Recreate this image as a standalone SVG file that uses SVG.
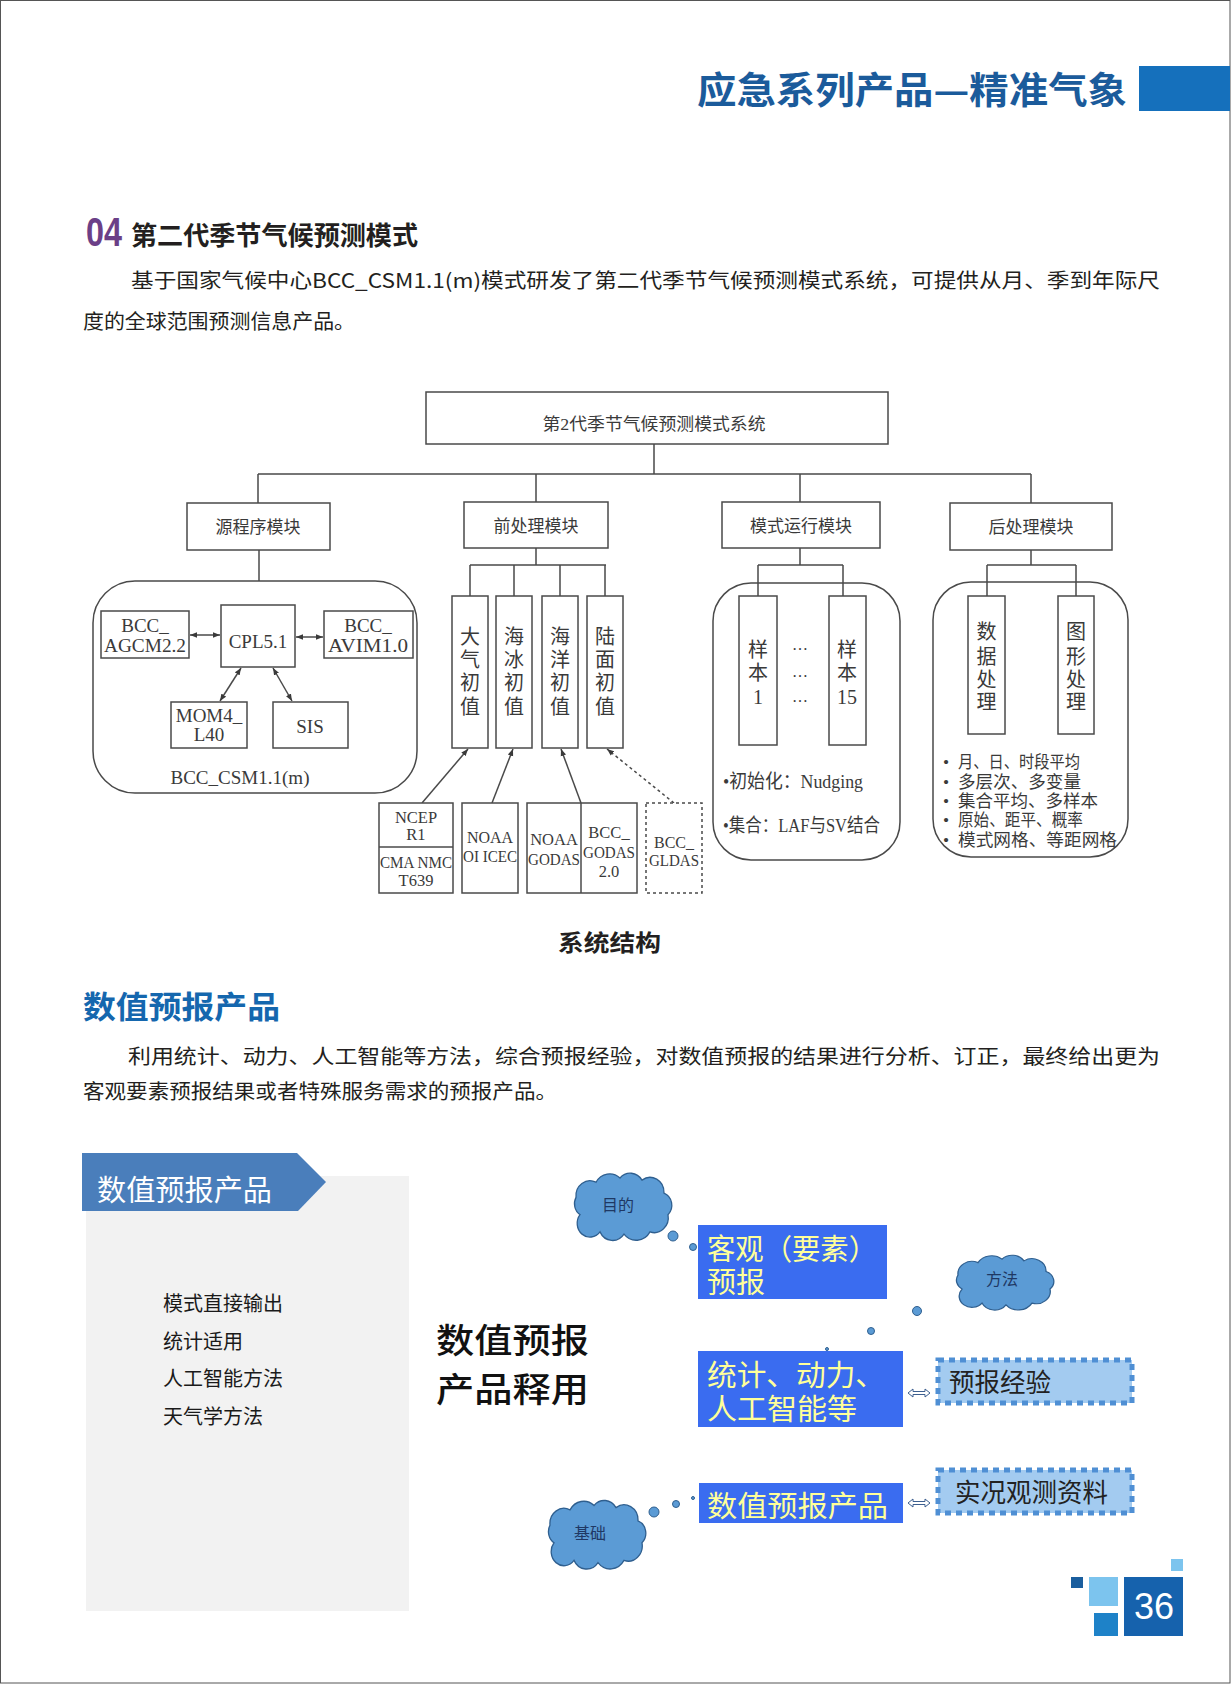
<svg xmlns="http://www.w3.org/2000/svg" width="1231" height="1684" viewBox="0 0 1231 1684">
<style>
.sans{font-family:"Noto Sans CJK SC","Liberation Sans",sans-serif}
.ser{font-family:"Liberation Serif","Noto Sans CJK SC",serif;fill:#3a3a3a}
.box{fill:#fff;stroke:#4a4a4a;stroke-width:1.5}
.grp{fill:none;stroke:#4a4a4a;stroke-width:1.5}
.ln{fill:none;stroke:#4a4a4a;stroke-width:1.5}
.para{font-family:"Noto Sans CJK SC",sans-serif;font-size:20px;fill:#231f20}
.cloud{fill:#5b9bd5;stroke:#2f5f8f;stroke-width:1.3}
.bub{fill:#5b9bd5;stroke:#2f5f8f;stroke-width:1}
.blue{fill:#3a6cf0}
.yel{font-family:"Liberation Serif","Noto Sans CJK SC",serif;fill:#ffff99;font-size:29px}
.dbox{fill:#a3cbf0;stroke:#4f8fd4;stroke-width:5;stroke-dasharray:6 5}
.dtxt{font-family:"Liberation Serif","Noto Sans CJK SC",serif;fill:#222;font-size:26px}
.ctxt{font-family:"Noto Sans CJK SC",sans-serif;fill:#1f3864;font-size:16px;text-anchor:middle}
.dbl{fill:#fff;stroke:#3d5f8f;stroke-width:1}
</style>
<defs>
<marker id="ah" viewBox="0 0 10 10" refX="10" refY="5" markerWidth="7" markerHeight="7" markerUnits="userSpaceOnUse" orient="auto-start-reverse">
<path d="M0,1 L10,5 L0,9 Z" fill="#3a3a3a"/>
</marker>
<path id="cloudp" d="M-40,8 A12,12 0 0 1 -44,-8 A14,14 0 0 1 -24,-22 A16,16 0 0 1 0,-26 A14,14 0 0 1 22,-24 A14,14 0 0 1 44,-12 A12,12 0 0 1 48,8 A14,14 0 0 1 30,24 A16,16 0 0 1 4,26 A14,14 0 0 1 -20,24 A12,12 0 0 1 -40,8 Z"/>
</defs>
<rect x="0.5" y="0.5" width="1229.5" height="1682.5" fill="#fff" stroke="#555" stroke-width="1"/>

<!-- header -->
<g id="header">
<text x="697" y="104" class="sans" font-size="37" font-weight="bold" fill="#1b5b9b" textLength="430" lengthAdjust="spacingAndGlyphs">应急系列产品—精准气象</text>
<rect x="1139" y="66" width="91" height="45" fill="#1570bc"/>
</g>

<!-- section 04 -->
<g id="sec04">
<text x="86" y="246" font-family="Liberation Sans,sans-serif" font-size="40" font-weight="bold" fill="#6b3f87" textLength="36" lengthAdjust="spacingAndGlyphs">04</text>
<text x="131" y="245" class="sans" font-size="26" font-weight="bold" fill="#231f20" textLength="287" lengthAdjust="spacingAndGlyphs">第二代季节气候预测模式</text>
<text x="131" y="288" class="para" textLength="1029" lengthAdjust="spacingAndGlyphs">基于国家气候中心BCC_CSM1.1(m)模式研发了第二代季节气候预测模式系统，可提供从月、季到年际尺</text>
<text x="83" y="329" class="para" textLength="272" lengthAdjust="spacingAndGlyphs">度的全球范围预测信息产品。</text>
</g>

<!-- connectors -->
<g id="connectors">
<path class="ln" d="M654,444 V474 M258,474 H1031 M258,474 V503 M536,474 V502 M800,474 V502 M1031,474 V503"/>
<path class="ln" d="M259,550 V581"/>
<path class="ln" d="M536,548 V565 M470,565 H606 M470,565 V596 M514,565 V596 M560,565 V596 M605,565 V596"/>
<path class="ln" d="M800,548 V565 M758,565 H843 M758,565 V596 M843,565 V596"/>
<path class="ln" d="M1031,550 V565 M987,565 H1076 M987,565 V596 M1076,565 V596"/>
<line class="ln" x1="190" y1="635" x2="220" y2="635" marker-start="url(#ah)" marker-end="url(#ah)"/>
<line class="ln" x1="296" y1="637" x2="323" y2="637" marker-start="url(#ah)" marker-end="url(#ah)"/>
<line class="ln" x1="241" y1="668" x2="220" y2="701" marker-start="url(#ah)" marker-end="url(#ah)"/>
<line class="ln" x1="273" y1="668" x2="292" y2="701" marker-start="url(#ah)" marker-end="url(#ah)"/>
<line class="ln" x1="422" y1="803" x2="468" y2="749" marker-end="url(#ah)"/>
<line class="ln" x1="492" y1="803" x2="513" y2="749" marker-end="url(#ah)"/>
<line class="ln" x1="581" y1="803" x2="561" y2="749" marker-end="url(#ah)"/>
<line class="ln" x1="674" y1="803" x2="607" y2="749" stroke-dasharray="3 3" marker-end="url(#ah)"/>
</g>

<!-- top -->
<g id="n-top">
<rect class="box" x="426" y="392" width="462" height="52"/>
<text class="ser" x="654" y="430" font-size="17" text-anchor="middle" textLength="223" lengthAdjust="spacingAndGlyphs">第2代季节气候预测模式系统</text>
</g>
<g id="n-src"><rect class="box" x="187" y="503" width="143" height="47"/><text class="ser" x="258" y="533" font-size="17" text-anchor="middle">源程序模块</text></g>
<g id="n-pre"><rect class="box" x="464" y="502" width="144" height="46"/><text class="ser" x="536" y="532" font-size="17" text-anchor="middle">前处理模块</text></g>
<g id="n-run"><rect class="box" x="722" y="502" width="158" height="46"/><text class="ser" x="801" y="532" font-size="17" text-anchor="middle">模式运行模块</text></g>
<g id="n-post"><rect class="box" x="950" y="503" width="162" height="47"/><text class="ser" x="1031" y="533" font-size="17" text-anchor="middle">后处理模块</text></g>

<!-- source group -->
<g id="g-src">
<rect class="grp" x="93" y="581" width="324" height="212" rx="42"/>
<text class="ser" x="240" y="784" font-size="19" text-anchor="middle" textLength="139" lengthAdjust="spacingAndGlyphs">BCC_CSM1.1(m)</text>
</g>
<g id="n-agcm"><rect class="box" x="101" y="611" width="88" height="47"/><text class="ser" font-size="19" text-anchor="middle"><tspan x="145" y="632">BCC_</tspan><tspan x="145" y="652" textLength="82" lengthAdjust="spacingAndGlyphs">AGCM2.2</tspan></text></g>
<g id="n-cpl"><rect class="box" x="221" y="605" width="74" height="62"/><text class="ser" x="258" y="648" font-size="19" text-anchor="middle">CPL5.1</text></g>
<g id="n-avim"><rect class="box" x="324" y="611" width="89" height="47"/><text class="ser" font-size="19" text-anchor="middle"><tspan x="368" y="632">BCC_</tspan><tspan x="368" y="652" textLength="80" lengthAdjust="spacingAndGlyphs">AVIM1.0</tspan></text></g>
<g id="n-mom"><rect class="box" x="171" y="702" width="76" height="46"/><text class="ser" font-size="19" text-anchor="middle"><tspan x="209" y="722">MOM4_</tspan><tspan x="209" y="741">L40</tspan></text></g>
<g id="n-sis"><rect class="box" x="273" y="702" width="75" height="46"/><text class="ser" x="310" y="733" font-size="19" text-anchor="middle">SIS</text></g>

<!-- pre-processing -->
<g id="n-atm"><rect class="box" x="452" y="596" width="36" height="152"/><text class="ser" font-size="20" text-anchor="middle"><tspan x="470" y="644">大</tspan><tspan x="470" y="667">气</tspan><tspan x="470" y="690">初</tspan><tspan x="470" y="714">值</tspan></text></g>
<g id="n-ice"><rect class="box" x="496" y="596" width="36" height="152"/><text class="ser" font-size="20" text-anchor="middle"><tspan x="514" y="644">海</tspan><tspan x="514" y="667">冰</tspan><tspan x="514" y="690">初</tspan><tspan x="514" y="714">值</tspan></text></g>
<g id="n-ocn"><rect class="box" x="542" y="596" width="36" height="152"/><text class="ser" font-size="20" text-anchor="middle"><tspan x="560" y="644">海</tspan><tspan x="560" y="667">洋</tspan><tspan x="560" y="690">初</tspan><tspan x="560" y="714">值</tspan></text></g>
<g id="n-lnd"><rect class="box" x="587" y="596" width="36" height="152"/><text class="ser" font-size="20" text-anchor="middle"><tspan x="605" y="644">陆</tspan><tspan x="605" y="667">面</tspan><tspan x="605" y="690">初</tspan><tspan x="605" y="714">值</tspan></text></g>

<g id="n-ncep"><rect class="box" x="379" y="803" width="74" height="90"/><line class="ln" x1="379" y1="847" x2="453" y2="847"/>
<text class="ser" font-size="16.5" text-anchor="middle"><tspan x="416" y="823">NCEP</tspan><tspan x="416" y="840">R1</tspan><tspan x="416" y="868" textLength="72" lengthAdjust="spacingAndGlyphs">CMA NMC</tspan><tspan x="416" y="886">T639</tspan></text></g>
<g id="n-oi"><rect class="box" x="462" y="803" width="56" height="90"/><text class="ser" font-size="16" text-anchor="middle"><tspan x="490" y="843">NOAA</tspan><tspan x="490" y="862" textLength="54" lengthAdjust="spacingAndGlyphs">OI ICEC</tspan></text></g>
<g id="n-godas"><rect class="box" x="527" y="803" width="110" height="90"/><line class="ln" x1="581" y1="803" x2="581" y2="893"/>
<text class="ser" font-size="16.5" text-anchor="middle"><tspan x="554" y="845">NOAA</tspan><tspan x="554" y="865" textLength="52" lengthAdjust="spacingAndGlyphs">GODAS</tspan><tspan x="609" y="838">BCC_</tspan><tspan x="609" y="858" textLength="52" lengthAdjust="spacingAndGlyphs">GODAS</tspan><tspan x="609" y="877">2.0</tspan></text></g>
<g id="n-gldas"><rect class="box" x="646" y="803" width="56" height="90" stroke-dasharray="3 3"/><text class="ser" font-size="16" text-anchor="middle"><tspan x="674" y="848">BCC_</tspan><tspan x="674" y="866" textLength="50" lengthAdjust="spacingAndGlyphs">GLDAS</tspan></text></g>

<!-- model run -->
<g id="g-run">
<rect class="grp" x="713" y="583" width="187" height="277" rx="38"/>
<text class="ser" font-size="16" text-anchor="middle"><tspan x="800" y="650">…</tspan><tspan x="800" y="677">…</tspan><tspan x="800" y="702">…</tspan></text>
<text class="ser" x="723" y="788" font-size="19" textLength="140" lengthAdjust="spacingAndGlyphs">•初始化：Nudging</text>
<text class="ser" x="723" y="832" font-size="19" textLength="157" lengthAdjust="spacingAndGlyphs">•集合：LAF与SV结合</text>
</g>
<g id="n-s1"><rect class="box" x="739" y="596" width="38" height="149"/><text class="ser" font-size="20" text-anchor="middle"><tspan x="758" y="657">样</tspan><tspan x="758" y="680">本</tspan><tspan x="758" y="704">1</tspan></text></g>
<g id="n-s15"><rect class="box" x="829" y="596" width="37" height="149"/><text class="ser" font-size="20" text-anchor="middle"><tspan x="847" y="657">样</tspan><tspan x="847" y="680">本</tspan><tspan x="847" y="704">15</tspan></text></g>

<!-- post -->
<g id="g-post">
<rect class="grp" x="933" y="582" width="195" height="275" rx="38"/>
<text class="ser" font-size="17.5"><tspan x="943" y="768">•</tspan><tspan x="943" y="788">•</tspan><tspan x="943" y="807">•</tspan><tspan x="943" y="826">•</tspan><tspan x="943" y="846">•</tspan></text>
<text class="ser" x="958" y="768" font-size="17.5" textLength="122" lengthAdjust="spacingAndGlyphs">月、日、时段平均</text>
<text class="ser" x="958" y="788" font-size="17.5" textLength="123" lengthAdjust="spacingAndGlyphs">多层次、多变量</text>
<text class="ser" x="958" y="807" font-size="17.5" textLength="140" lengthAdjust="spacingAndGlyphs">集合平均、多样本</text>
<text class="ser" x="958" y="826" font-size="17.5" textLength="125" lengthAdjust="spacingAndGlyphs">原始、距平、概率</text>
<text class="ser" x="958" y="846" font-size="17.5" textLength="159" lengthAdjust="spacingAndGlyphs">模式网格、等距网格</text>
</g>
<g id="n-data"><rect class="box" x="968" y="596" width="37" height="138"/><text class="ser" font-size="20" text-anchor="middle"><tspan x="986.5" y="639">数</tspan><tspan x="986.5" y="664">据</tspan><tspan x="986.5" y="687">处</tspan><tspan x="986.5" y="709">理</tspan></text></g>
<g id="n-graph"><rect class="box" x="1058" y="596" width="36" height="138"/><text class="ser" font-size="20" text-anchor="middle"><tspan x="1076" y="639">图</tspan><tspan x="1076" y="664">形</tspan><tspan x="1076" y="687">处</tspan><tspan x="1076" y="709">理</tspan></text></g>

<text x="558" y="951" class="sans" font-size="23" font-weight="bold" fill="#231f20" textLength="103" lengthAdjust="spacingAndGlyphs">系统结构</text>

<!-- numeric forecast section -->
<g id="sec-num">
<text x="83" y="1018" class="sans" font-size="31" font-weight="bold" fill="#1567ae" textLength="197" lengthAdjust="spacingAndGlyphs">数值预报产品</text>
<text x="128" y="1064" class="para" textLength="1032" lengthAdjust="spacingAndGlyphs">利用统计、动力、人工智能等方法，综合预报经验，对数值预报的结果进行分析、订正，最终给出更为</text>
<text x="83" y="1099" class="para" textLength="474" lengthAdjust="spacingAndGlyphs">客观要素预报结果或者特殊服务需求的预报产品。</text>
</g>

<!-- left panel -->
<g id="panel">
<rect x="86" y="1176" width="323" height="435" fill="#f2f2f2"/>
<polygon points="82,1153 297,1153 326,1182 298,1211 82,1211" fill="#4a7ebb"/>
<text x="97" y="1201" class="sans" font-size="29" fill="#fff" textLength="175" lengthAdjust="spacingAndGlyphs">数值预报产品</text>
<text class="sans" font-size="20" fill="#1a1a1a"><tspan x="163" y="1311">模式直接输出</tspan><tspan x="163" y="1349">统计适用</tspan><tspan x="163" y="1386">人工智能方法</tspan><tspan x="163" y="1424">天气学方法</tspan></text>
</g>

<g id="bigtitle">
<text class="sans" x="436" y="1353" font-size="34" font-weight="500" fill="#111" textLength="153" lengthAdjust="spacingAndGlyphs">数值预报</text>
<text class="sans" x="436" y="1402" font-size="34" font-weight="500" fill="#111" textLength="153" lengthAdjust="spacingAndGlyphs">产品释用</text>
</g>

<!-- clouds -->
<g id="cloud-aim">
<use href="#cloudp" class="cloud" transform="translate(620,1206) scale(1.0,1.08)"/>
<circle class="bub" cx="673" cy="1236" r="5"/><circle class="bub" cx="693" cy="1247" r="3.5"/><circle class="bub" cx="709" cy="1255" r="1.5"/>
<text class="ctxt" x="618" y="1211">目的</text>
</g>
<g id="cloud-method">
<use href="#cloudp" class="cloud" transform="translate(1002,1282) scale(1.0,0.88)"/>
<circle class="bub" cx="917" cy="1311" r="4.5"/><circle class="bub" cx="871" cy="1331" r="3.5"/><circle class="bub" cx="827" cy="1349" r="1.5"/>
<text class="ctxt" x="1002" y="1285">方法</text>
</g>
<g id="cloud-base">
<use href="#cloudp" class="cloud" transform="translate(594,1534) scale(1.0,1.1)"/>
<circle class="bub" cx="654" cy="1512" r="5"/><circle class="bub" cx="676" cy="1504" r="3.5"/><circle class="bub" cx="693" cy="1498" r="1.5"/>
<text class="ctxt" x="590" y="1539">基础</text>
</g>

<!-- blue boxes -->
<g id="b-obj"><rect class="blue" x="698" y="1225" width="189" height="74"/><text class="yel"><tspan x="707" y="1260" textLength="170" lengthAdjust="spacingAndGlyphs">客观（要素）</tspan><tspan x="707" y="1293">预报</tspan></text></g>
<g id="b-stat"><rect class="blue" x="698" y="1351" width="205" height="76"/><text class="yel"><tspan x="707" y="1386" textLength="178" lengthAdjust="spacingAndGlyphs">统计、动力、</tspan><tspan x="707" y="1420" textLength="150" lengthAdjust="spacingAndGlyphs">人工智能等</tspan></text></g>
<g id="b-prod"><rect class="blue" x="699" y="1483" width="204" height="40"/><text class="yel" x="707" y="1517" font-size="30" textLength="181" lengthAdjust="spacingAndGlyphs">数值预报产品</text></g>

<g id="d-exp"><rect class="dbox" x="938" y="1360" width="194" height="43"/><text class="dtxt" x="949" y="1392" textLength="102" lengthAdjust="spacingAndGlyphs">预报经验</text></g>
<g id="d-obs"><rect class="dbox" x="938" y="1470" width="194" height="43"/><text class="dtxt" x="955" y="1502" textLength="153" lengthAdjust="spacingAndGlyphs">实况观测资料</text></g>

<g id="arrows2">
<path class="dbl" d="M908,1393 L913,1389 L913,1391.5 L925,1391.5 L925,1389 L930,1393 L925,1397 L925,1394.5 L913,1394.5 L913,1397 Z"/>
<path class="dbl" d="M908,1503 L913,1499 L913,1501.5 L925,1501.5 L925,1499 L930,1503 L925,1507 L925,1504.5 L913,1504.5 L913,1507 Z"/>
</g>

<!-- page number -->
<g id="pagenum">
<rect x="1071" y="1577" width="12" height="11" fill="#1a5e9e"/>
<rect x="1089" y="1577" width="29" height="29" fill="#7cc4ee"/>
<rect x="1094" y="1613" width="24" height="23" fill="#1e82c8"/>
<rect x="1124" y="1577" width="59" height="59" fill="#1662ad"/>
<rect x="1171" y="1559" width="12" height="12" fill="#7cc4ee"/>
<text x="1154" y="1619" font-family="Liberation Sans,sans-serif" font-size="36" fill="#fff" text-anchor="middle">36</text>
</g>
</svg>
